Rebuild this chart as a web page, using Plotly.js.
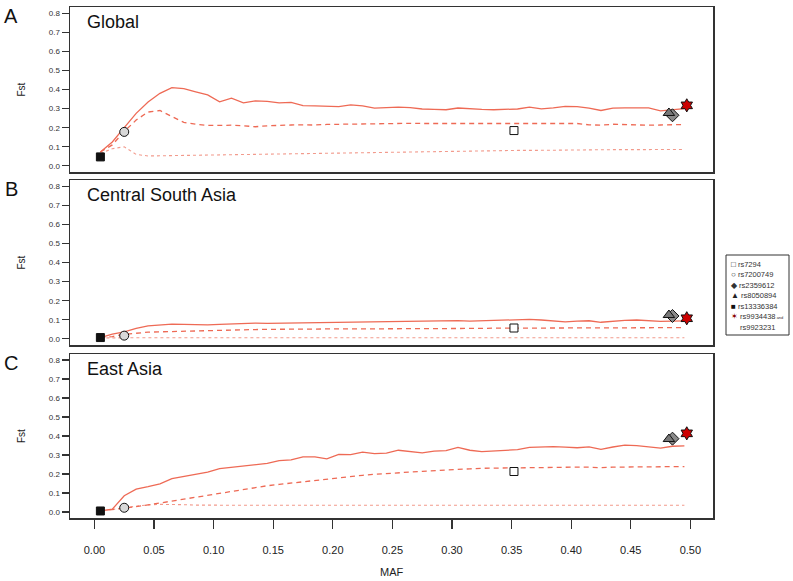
<!DOCTYPE html>
<html><head><meta charset="utf-8">
<script src="https://cdn.plot.ly/plotly-3.0.1.min.js"></script>
<style>body{margin:0;background:#fff}#chart{width:793px;height:581px}</style>
</head><body><div id="chart"></div>
<script>
// ---------- data ----------
const maf = [0.005,0.015,0.025,0.035,0.045,0.055,0.065,0.075,0.085,0.095,
  0.105,0.115,0.125,0.135,0.145,0.155,0.165,0.175,0.185,0.195,
  0.205,0.215,0.225,0.235,0.245,0.255,0.265,0.275,0.285,0.295,
  0.305,0.315,0.325,0.335,0.345,0.355,0.365,0.375,0.385,0.395,
  0.405,0.415,0.425,0.435,0.445,0.455,0.465,0.475,0.485,0.495];

const globalUpper = [0.073,0.125,0.2,0.275,0.335,0.38,0.41,0.405,0.388,0.372,
  0.335,0.355,0.33,0.34,0.338,0.33,0.333,0.316,0.314,0.312,
  0.31,0.32,0.314,0.302,0.306,0.308,0.305,0.298,0.296,0.294,
  0.303,0.298,0.296,0.294,0.296,0.298,0.308,0.299,0.304,0.312,
  0.31,0.302,0.29,0.302,0.304,0.305,0.304,0.288,0.295,0.30];
const globalMedian = [0.073,0.11,0.18,0.24,0.282,0.29,0.258,0.228,0.218,0.212,
  0.212,0.213,0.21,0.205,0.21,0.213,0.214,0.215,0.214,0.217,
  0.218,0.22,0.221,0.222,0.222,0.222,0.223,0.222,0.222,0.223,
  0.222,0.223,0.222,0.222,0.223,0.222,0.223,0.222,0.223,0.222,
  0.222,0.215,0.213,0.218,0.216,0.215,0.213,0.214,0.216,0.217];
const globalLower = [0.065,0.09,0.1,0.06,0.052,0.053,0.054,0.055,0.056,0.057,
  0.058,0.06,0.061,0.062,0.063,0.064,0.065,0.066,0.067,0.068,
  0.069,0.07,0.071,0.072,0.072,0.073,0.074,0.075,0.076,0.077,
  0.078,0.079,0.079,0.08,0.08,0.081,0.081,0.082,0.082,0.083,
  0.083,0.084,0.084,0.085,0.085,0.085,0.086,0.086,0.086,0.086];

const csaUpper = [0.007,0.025,0.037,0.055,0.068,0.073,0.077,0.076,0.075,0.073,
  0.076,0.078,0.079,0.083,0.081,0.082,0.083,0.082,0.084,0.085,
  0.086,0.087,0.088,0.087,0.089,0.09,0.091,0.09,0.092,0.094,
  0.096,0.093,0.095,0.097,0.1,0.103,0.102,0.099,0.096,0.089,
  0.093,0.095,0.087,0.093,0.097,0.099,0.096,0.092,0.093,0.094];
const csaMedian = [0.007,0.012,0.024,0.031,0.035,0.037,0.039,0.041,0.042,0.043,
  0.045,0.047,0.048,0.049,0.05,0.051,0.052,0.052,0.052,0.052,
  0.052,0.052,0.052,0.053,0.053,0.052,0.053,0.053,0.054,0.054,
  0.054,0.055,0.055,0.056,0.056,0.057,0.057,0.058,0.058,0.058,
  0.058,0.058,0.058,0.058,0.059,0.059,0.059,0.059,0.059,0.059];
const csaLower = [0.005,0.006,0.006,0.006,0.006,0.006,0.006,0.006,0.006,0.006,
  0.006,0.006,0.006,0.006,0.006,0.006,0.006,0.006,0.006,0.006,
  0.006,0.006,0.006,0.006,0.006,0.006,0.006,0.006,0.006,0.006,
  0.006,0.006,0.006,0.006,0.006,0.006,0.006,0.006,0.006,0.006,
  0.006,0.006,0.006,0.006,0.006,0.006,0.006,0.006,0.006,0.006];

const eastUpper = [0.005,0.015,0.085,0.12,0.133,0.148,0.175,0.187,0.198,0.21,
  0.228,0.235,0.245,0.25,0.256,0.27,0.274,0.29,0.29,0.28,
  0.303,0.302,0.315,0.307,0.31,0.325,0.32,0.311,0.32,0.323,
  0.34,0.325,0.318,0.322,0.325,0.328,0.34,0.342,0.344,0.341,
  0.338,0.343,0.33,0.342,0.352,0.349,0.344,0.336,0.346,0.348];
const eastMedian = [0.005,0.012,0.02,0.028,0.037,0.047,0.057,0.067,0.078,0.088,
  0.1,0.11,0.12,0.13,0.138,0.145,0.152,0.16,0.167,0.174,
  0.18,0.186,0.193,0.198,0.203,0.206,0.21,0.214,0.218,0.222,
  0.225,0.227,0.23,0.231,0.232,0.234,0.235,0.235,0.236,0.236,
  0.236,0.236,0.233,0.236,0.237,0.236,0.236,0.237,0.238,0.239];
const eastLower = [0.005,0.012,0.022,0.03,0.037,0.04,0.04,0.038,0.036,0.035,
  0.035,0.035,0.035,0.035,0.035,0.035,0.035,0.035,0.035,0.035,
  0.035,0.035,0.035,0.035,0.035,0.035,0.035,0.035,0.035,0.035,
  0.035,0.035,0.035,0.035,0.035,0.035,0.035,0.035,0.035,0.035,
  0.035,0.035,0.035,0.035,0.035,0.035,0.035,0.035,0.035,0.035];

const snpNames = ['rs7294','rs7200749','rs2359612','rs8050894','rs13336384','rs9934438 and rs9923231'];
const snpMaf = [0.352,0.025,0.485,0.482,0.005,0.497];
const snpFstGlobal = [0.185,0.178,0.265,0.277,0.047,0.317];
const snpFstCSA = [0.057,0.017,0.12,0.125,0.007,0.108];
const snpFstEast = [0.213,0.022,0.386,0.384,0.005,0.414];

const panelTitles = ['Global','Central South Asia','East Asia'];
const panelLetters = ['A','B','C'];
const xTickVals = [0,0.05,0.10,0.15,0.20,0.25,0.30,0.35,0.40,0.45,0.50];
const xTickText = ['0.00','0.05','0.10','0.15','0.20','0.25','0.30','0.35','0.40','0.45','0.50'];
const yTickVals = [0,0.1,0.2,0.3,0.4,0.5,0.6,0.7,0.8];
const yTickText = ['0.0','0.1','0.2','0.3','0.4','0.5','0.6','0.7','0.8'];

// ---------- styles ----------
const lineColor = '#EE6A55';
const dotColor = '#F29A8C';
const snpStyles = [
  {symbol:'square', color:'#ffffff', size:8, glyph:'\u25A1', gcol:'#222'},
  {symbol:'circle', color:'#d8d8d8', size:9, glyph:'<b>\u25CB</b>', gcol:'#222'},
  {symbol:'diamond', color:'#8a8a8a', size:10, glyph:'\u25C6', gcol:'#333'},
  {symbol:'triangle-up', color:'#777777', size:10, glyph:'\u25B2', gcol:'#222'},
  {symbol:'square', color:'#111111', size:8, glyph:'\u25A0', gcol:'#111'},
  {symbol:'hexagram', color:'#cc0000', size:10, glyph:'\u2736', gcol:'#8b0000'}
];

const panels = [
  {up:globalUpper, med:globalMedian, low:globalLower, snp:snpFstGlobal},
  {up:csaUpper, med:csaMedian, low:csaLower, snp:snpFstCSA},
  {up:eastUpper, med:eastMedian, low:eastLower, snp:snpFstEast}
];

const traces = [];
panels.forEach((p, i) => {
  const xa = i === 0 ? 'x' : 'x' + (i + 1);
  const ya = i === 0 ? 'y' : 'y' + (i + 1);
  traces.push({x: maf, y: p.low, xaxis: xa, yaxis: ya, mode: 'lines', showlegend: false,
    line: {color: dotColor, width: 1.1, dash: 'dot'}, hoverinfo: 'skip'});
  traces.push({x: maf, y: p.med, xaxis: xa, yaxis: ya, mode: 'lines', showlegend: false,
    line: {color: lineColor, width: 1.3, dash: '5px,4px'}, hoverinfo: 'skip'});
  traces.push({x: maf, y: p.up, xaxis: xa, yaxis: ya, mode: 'lines', showlegend: false,
    line: {color: lineColor, width: 1.3}, hoverinfo: 'skip'});
  snpNames.forEach((n, k) => {
    const s = snpStyles[k];
    traces.push({x: [snpMaf[k]], y: [p.snp[k]], xaxis: xa, yaxis: ya, mode: 'markers',
      name: n, showlegend: false,
      marker: {symbol: s.symbol, size: s.size, color: s.color, line: {color: '#111', width: 1}}});
  });
});

// ---------- layout ----------
const L = 70, R = 713, T = 7, B = 518;
const px2x = px => (px - L) / (R - L);
const px2y = py => (B - py) / (B - T);

const panelBoxes = [[7,172],[180,345],[354,518]];
const layout = {
  width: 793, height: 581,
  margin: {l: L, r: 793 - R, t: T, b: 581 - B},
  paper_bgcolor: '#fff', plot_bgcolor: '#fff',
  showlegend: false,
  font: {family: 'Liberation Sans, Arial, sans-serif', color: '#222'},
  annotations: [], shapes: []
};
panelBoxes.forEach((bx, i) => {
  const sfx = i === 0 ? '' : String(i + 1);
  const isLast = i === 2;
  layout['xaxis' + sfx] = {
    domain: [0, 1], anchor: 'y' + sfx, range: [-0.0205, 0.519],
    showgrid: false, zeroline: false, showline: true, mirror: true,
    linecolor: '#333', linewidth: 1.5,
    tickmode: 'array', tickvals: xTickVals, ticktext: xTickText,
    showticklabels: isLast, ticks: isLast ? 'outside' : '', ticklen: 9, tickwidth: 1.2, tickcolor: '#333',
    ticklabelstandoff: 12,
    tickfont: {size: 11, family: 'Liberation Sans Narrow, Liberation Sans, Arial, sans-serif', color: '#222'}
  };
  layout['yaxis' + sfx] = {
    domain: [px2y(bx[1]), px2y(bx[0])], anchor: 'x' + sfx, range: [-0.032, 0.832],
    showgrid: false, zeroline: false, showline: true, mirror: true,
    linecolor: '#333', linewidth: 1.5,
    tickmode: 'array', tickvals: yTickVals, ticktext: yTickText,
    ticks: 'outside', ticklen: 7, tickwidth: 1.2, tickcolor: '#333',
    tickfont: {size: 8, color: '#333'}
  };
  layout.annotations.push({xref: 'paper', yref: 'paper', x: px2x(85), y: px2y(bx[0] + 15),
    xanchor: 'left', yanchor: 'middle', showarrow: false, text: panelTitles[i],
    font: {size: 18, color: '#111'}});
  layout.annotations.push({xref: 'paper', yref: 'paper', x: px2x(11), y: px2y(bx[0] + 9),
    xanchor: 'center', yanchor: 'middle', showarrow: false, text: panelLetters[i],
    font: {size: 20, color: '#111'}});
  layout.annotations.push({xref: 'paper', yref: 'paper', x: px2x(21), y: px2y((bx[0] + bx[1]) / 2),
    xanchor: 'center', yanchor: 'middle', showarrow: false, text: 'Fst', textangle: -90,
    font: {size: 10, color: '#222'}});
});
layout.annotations.push({xref: 'paper', yref: 'paper', x: px2x(392), y: px2y(572),
  xanchor: 'center', yanchor: 'middle', showarrow: false, text: 'MAF',
  font: {size: 11, family: 'Liberation Sans Narrow, Liberation Sans, Arial, sans-serif', color: '#222'}});

// legend box built from the SNP names
const legTop = 255, legRow = 10.5, legLeft = 726, legRight = 789;
let row = 0;
snpNames.forEach((n, k) => {
  const s = snpStyles[k];
  const parts = n.split(' and ');
  const yy = legTop + 9 + row * legRow;
  layout.annotations.push({xref: 'paper', yref: 'paper', x: px2x(legLeft + 3), y: px2y(yy),
    xanchor: 'left', yanchor: 'middle', showarrow: false,
    text: '<span style="color:' + s.gcol + ';font-size:8px">' + s.glyph + '</span> ' + parts[0] + (parts.length > 1 ? '<span style="font-size:4px"> and</span>' : ''),
    font: {size: 7.5, color: '#333'}});
  row++;
  if (parts.length > 1) {
    layout.annotations.push({xref: 'paper', yref: 'paper', x: px2x(legLeft + 12), y: px2y(legTop + 9 + row * legRow),
      xanchor: 'left', yanchor: 'middle', showarrow: false, text: parts[1],
      font: {size: 7.5, color: '#333'}});
    row++;
  }
});
layout.shapes.push({type: 'rect', xref: 'paper', yref: 'paper',
  x0: px2x(legLeft), x1: px2x(legRight), y0: px2y(legTop + 9 + (row - 1) * legRow + 8), y1: px2y(legTop),
  line: {color: '#333', width: 1}, fillcolor: 'rgba(0,0,0,0)'});

Plotly.newPlot('chart', traces, layout, {displayModeBar: false, staticPlot: true});
</script></body></html>
